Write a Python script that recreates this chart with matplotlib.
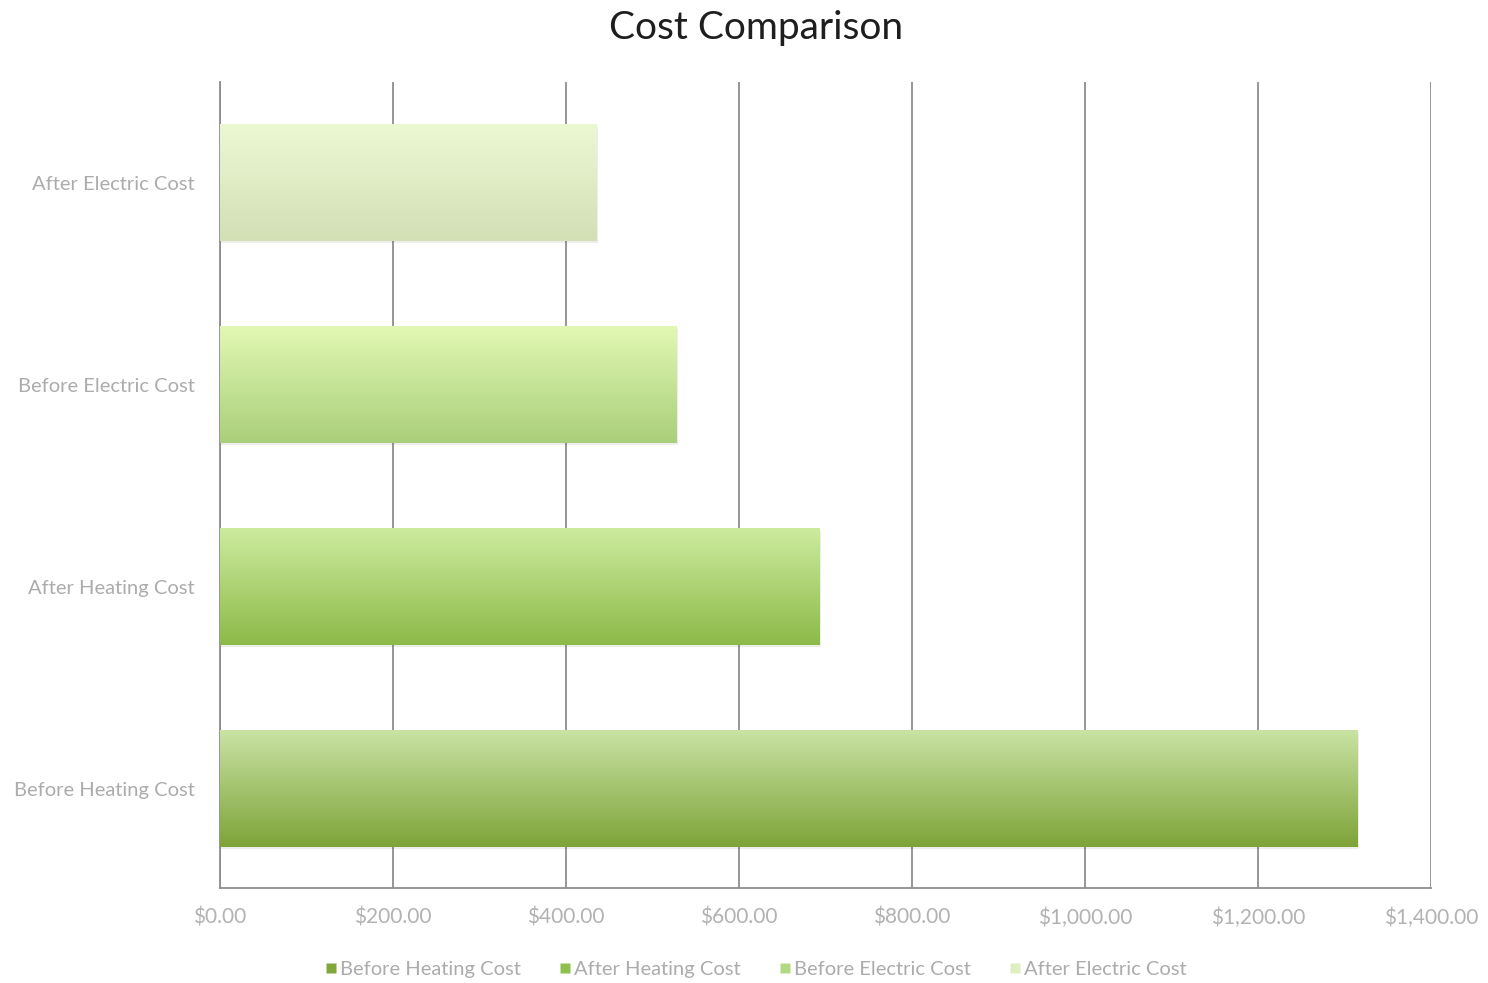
import numpy as np
import matplotlib.pyplot as plt
from matplotlib.colors import LinearSegmentedColormap
from matplotlib.patches import Rectangle
from matplotlib.lines import Line2D

plt.rcParams['font.family'] = ['Lato', 'DejaVu Sans']

# --- data ---
categories = ["Before Heating Cost", "After Heating Cost", "Before Electric Cost", "After Electric Cost"]
costs = [1315, 693, 528, 435]
xticks = [0, 200, 400, 600, 800, 1000, 1200, 1400]

# gradient (top, bottom) per bar and legend swatch colours
grad_top = ["#c9e3a4", "#cdeb9e", "#e2f8b2", "#ebf8d2"]
grad_bottom = ["#7ea338", "#8cba48", "#a9cf7a", "#d3e0b6"]
swatch = ["#80a63c", "#8fc04e", "#b2d884", "#e0efc2"]

fig = plt.figure(figsize=(14.88, 9.83), dpi=100)
ax = fig.add_axes([0.1478, 0.0966, 0.8139, 0.8200])

y = np.arange(len(categories))
bars = ax.barh(y, costs, height=0.575, color="none", zorder=3)

for i, b in enumerate(bars):
    x0, y0 = b.get_x(), b.get_y()
    w, h = b.get_width(), b.get_height()
    # soft shadow
    ax.add_patch(Rectangle((x0, y0 - 0.01), w + 2, h, facecolor="#000000",
                           alpha=0.07, edgecolor="none", zorder=2))
    cmap = LinearSegmentedColormap.from_list(f"g{i}", [grad_bottom[i], grad_top[i]])
    grad = np.linspace(0, 1, 256).reshape(-1, 1)
    ax.imshow(grad, cmap=cmap, extent=(x0, x0 + w, y0, y0 + h), origin="lower",
              aspect="auto", zorder=3, interpolation="bicubic")

ax.set_xlim(0, 1400)
ax.set_ylim(-0.49, 3.5)
ax.set_xticks(xticks)
ax.set_xticklabels([f"${v:,.2f}" for v in xticks])
ax.set_yticks(y)
ax.set_yticklabels(categories)

ax.grid(axis="x", color="#8e8e8e", linewidth=1.3, zorder=0)
ax.set_axisbelow(True)
for s in ["top", "right"]:
    ax.spines[s].set_visible(False)
for s in ["left", "bottom"]:
    ax.spines[s].set_color("#8e8e8e")
    ax.spines[s].set_linewidth(1.3)

ax.tick_params(axis="x", length=0, pad=14, labelsize=15, labelcolor="#b2b2b2")
ax.tick_params(axis="y", length=0, pad=18, labelsize=14.5, labelcolor="#acacac")

fig.text(0.508, 0.972, "Cost Comparison", ha="center", va="center",
         fontsize=28, color="#1e1e1e")

handles = [Line2D([], [], marker="s", linestyle="none", markersize=7,
                  markerfacecolor=c, markeredgecolor="none") for c in swatch]
leg = fig.legend(handles, categories, loc="center", bbox_to_anchor=(0.508, 0.014),
                 ncol=4, frameon=False, fontsize=14.5, handletextpad=0.15,
                 columnspacing=1.9, handlelength=0.6)
for t in leg.get_texts():
    t.set_color("#acacac")

fig.savefig("out.png", dpi=100)
